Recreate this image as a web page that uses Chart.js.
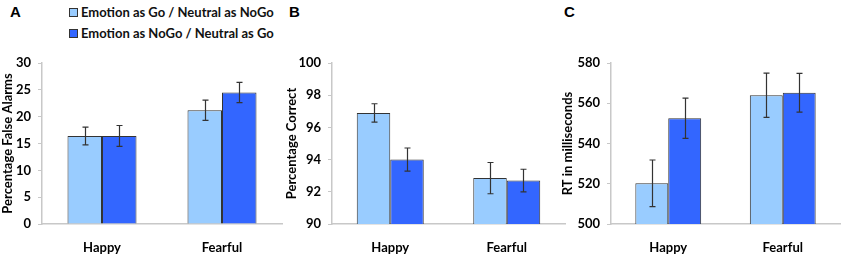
<!DOCTYPE html>
<html>
<head>
<meta charset="utf-8">
<script src="https://cdn.jsdelivr.net/npm/chart.js@4/dist/chart.umd.min.js"></script>
<style>
  body { margin: 0; background: #fff; }
  #wrap { position: relative; width: 843px; height: 255px; overflow: hidden; background: #fff; }
  canvas { position: absolute; top: 0; }
  .letter { position: absolute; top: 3px; font: bold 15px "Liberation Sans", Arial, sans-serif; color: #000; }
  #legend { position: absolute; left: 69px; top: 3px; font: bold 13px Lato, sans-serif; color: #111; }
  #legend div { height: 21px; line-height: 18px; white-space: nowrap; }
  #legend span { display: inline-block; width: 7px; height: 7px; border: 1px solid #333; margin-right: 3px; vertical-align: 0px; }
</style>
</head>
<body>
<div id="wrap">
  <div class="letter" style="left:10px">A</div>
  <div class="letter" style="left:289px">B</div>
  <div class="letter" style="left:564px">C</div>
  <div id="legend"></div>
  <canvas id="chartA"></canvas>
  <canvas id="chartB"></canvas>
  <canvas id="chartC"></canvas>
</div>
<script>
const categories = ["Happy", "Fearful"];
const seriesNames = ["Emotion as Go / Neutral as NoGo", "Emotion as NoGo / Neutral as Go"];
const seriesColors = ["#99ccff", "#3366ff"];

// A: percentage false alarms
const falseAlarmsGo = [16.4, 21.2];
const falseAlarmsNoGo = [16.4, 24.5];
const falseAlarmsGoErr = [1.65, 1.9];
const falseAlarmsNoGoErr = [1.95, 1.9];

// B: percentage correct
const correctGo = [96.9, 92.85];
const correctNoGo = [94.0, 92.7];
const correctGoErr = [0.57, 0.97];
const correctNoGoErr = [0.72, 0.7];

// C: reaction time
const rtGo = [520.2, 564.0];
const rtNoGo = [552.5, 565.2];
const rtGoErr = [11.6, 11.0];
const rtNoGoErr = [10.0, 9.6];

const legendEl = document.getElementById("legend");
seriesNames.forEach((name, i) => {
  const row = document.createElement("div");
  const box = document.createElement("span");
  box.style.background = seriesColors[i];
  row.appendChild(box);
  row.appendChild(document.createTextNode(name));
  legendEl.appendChild(row);
});

// draws the error bars stored on each dataset
const errorBars = {
  id: "errorBars",
  afterDatasetsDraw(chart) {
    const ctx = chart.ctx;
    const yScale = chart.scales.y;
    ctx.save();
    ctx.strokeStyle = "#333";
    ctx.lineWidth = 1.2;
    chart.data.datasets.forEach((ds, di) => {
      const meta = chart.getDatasetMeta(di);
      meta.data.forEach((bar, i) => {
        const hi = yScale.getPixelForValue(ds.data[i] + ds.errors[i]);
        const lo = yScale.getPixelForValue(ds.data[i] - ds.errors[i]);
        const x = Math.round(bar.x) + 0.5;
        ctx.beginPath();
        ctx.moveTo(x, hi);
        ctx.lineTo(x, lo);
        ctx.moveTo(x - 3, hi);
        ctx.lineTo(x + 3, hi);
        ctx.moveTo(x - 3, lo);
        ctx.lineTo(x + 3, lo);
        ctx.stroke();
      });
    });
    ctx.restore();
  },
};

function makePanel(id, opts) {
  const canvas = document.getElementById(id);
  canvas.style.left = opts.left + "px";
  canvas.width = opts.width;
  canvas.height = 255;
  canvas.style.width = opts.width + "px";
  canvas.style.height = "255px";
  const bold = { family: "Lato, sans-serif", size: 13, weight: "bold" };
  return new Chart(canvas, {
    type: "bar",
    data: {
      labels: categories,
      datasets: opts.series.map((values, i) => ({
        label: seriesNames[i],
        data: values,
        errors: opts.errors[i],
        backgroundColor: seriesColors[i],
        borderColor: "#333",
        borderWidth: 1,
        borderSkipped: "bottom",
        categoryPercentage: 0.575,
        barPercentage: 1,
      })),
    },
    options: {
      responsive: false,
      animation: false,
      layout: { padding: { top: 63, right: opts.right, left: 0, bottom: 0 } },
      plugins: { legend: { display: false }, tooltip: { enabled: false } },
      scales: {
        x: {
          grid: { display: false, drawTicks: false },
          border: { display: true, color: "#c8c8c8", width: 1.5 },
          ticks: { color: "#000", font: bold, padding: 16 },
          afterFit: (scale) => { scale.height = 31; },
        },
        y: {
          min: opts.min,
          max: opts.max,
          grid: { drawOnChartArea: false, drawTicks: true, tickLength: 4, color: "#c8c8c8" },
          border: { display: true, color: "#c8c8c8", width: 1.5 },
          ticks: { stepSize: opts.step, color: "#000", font: bold, padding: 7 },
          title: {
            display: true,
            text: opts.title,
            color: "#000",
            font: { family: "Lato, sans-serif", size: 13, weight: "bold" },
            padding: { top: opts.titlePad, bottom: 0 },
          },
          afterFit: (scale) => { scale.width = opts.axisWidth; },
        },
      },
    },
    plugins: [errorBars],
  });
}

makePanel("chartA", {
  left: 0, width: 283, right: 1, axisWidth: 42, titlePad: 0,
  min: 0, max: 30, step: 5, title: "Percentage False Alarms",
  series: [falseAlarmsGo, falseAlarmsNoGo], errors: [falseAlarmsGoErr, falseAlarmsNoGoErr],
});
makePanel("chartB", {
  left: 280, width: 286, right: 1, axisWidth: 52, titlePad: 4,
  min: 90, max: 100, step: 2, title: "Percentage Correct",
  series: [correctGo, correctNoGo], errors: [correctGoErr, correctNoGoErr],
});
makePanel("chartC", {
  left: 556, width: 287, right: 3, axisWidth: 55, titlePad: 4,
  min: 500, max: 580, step: 20, title: "RT in milliseconds",
  series: [rtGo, rtNoGo], errors: [rtGoErr, rtNoGoErr],
});
</script>
</body>
</html>
